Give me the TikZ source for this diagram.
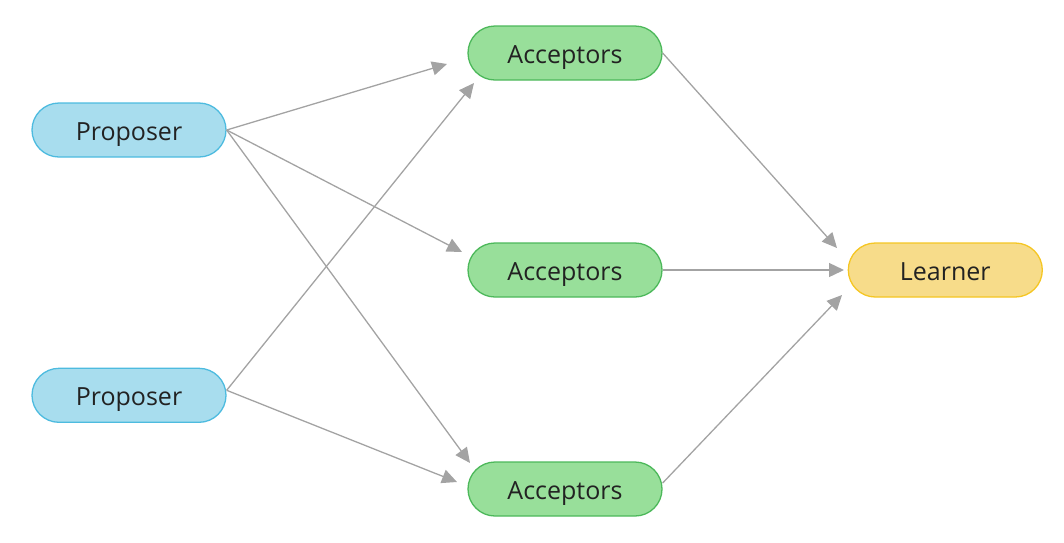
\documentclass[tikz,border=0pt]{standalone}
\usepackage{fontspec}
\setmainfont{Open Sans}
\usepackage{xcolor}
\definecolor{prop_fill}{HTML}{A8DDEE}
\definecolor{prop_line}{HTML}{4DBBDF}
\definecolor{acc_fill}{HTML}{98DF9A}
\definecolor{acc_line}{HTML}{4CB85A}
\definecolor{lrn_fill}{HTML}{F7DC8A}
\definecolor{lrn_line}{HTML}{F5C623}
\definecolor{arr_gray}{HTML}{A3A3A3}
\definecolor{txt_gray}{HTML}{222222}
\usetikzlibrary{positioning,calc,arrows.meta}
\tikzset{ROLE/.style={rectangle,rounded corners=27pt,minimum width=194pt,minimum height=54pt,line width=1.3pt,text=txt_gray,font=\fontsize{25}{30}\selectfont,text height=20pt,text depth=0pt}}
\tikzset{PROPOSER/.style={ROLE,draw=prop_line,fill=prop_fill}}
\tikzset{ACCEPTOR/.style={ROLE,draw=acc_line,fill=acc_fill}}
\tikzset{LEARNER/.style={ROLE,draw=lrn_line,fill=lrn_fill}}
\tikzset{ARROW/.style={line width=1.3pt,draw=arr_gray,-{Triangle[length=15pt,width=14pt,fill=arr_gray]}}}

\begin{document}
\begin{tikzpicture}[x=1pt,y=-1pt]
\useasboundingbox (0,0) rectangle (1064,542);

\node[PROPOSER] (n_prop1) at (129,130) {Proposer};
\node[PROPOSER, below=210pt of n_prop1] (n_prop2) {Proposer};

\node[ACCEPTOR] (n_acc1) at (565,53) {Acceptors};
\node[ACCEPTOR] (n_acc2) at (565,270) {Acceptors};
\node[ACCEPTOR] (n_acc3) at (565,489) {Acceptors};

\node[LEARNER, right=185pt of n_acc2] (n_learner) {Learner};

% arrow tips stop short of the boxes
\coordinate (c_p1_a1) at (447,64);
\coordinate (c_p1_a2) at (462,252);
\coordinate (c_p1_a3) at (470,463);
\coordinate (c_p2_a1) at (474,83);
\coordinate (c_p2_a3) at (457,482);
\coordinate (c_a1_l) at (837,248);
\coordinate (c_a2_l) at (844,270);
\coordinate (c_a3_l) at (842,295);

\draw[ARROW] (n_prop1.east) -- (c_p1_a1);
\draw[ARROW] (n_prop1.east) -- (c_p1_a2);
\draw[ARROW] (n_prop1.east) -- (c_p1_a3);
\draw[ARROW] ($(n_prop2.east)+(0,-5)$) -- (c_p2_a1);
\draw[ARROW] ($(n_prop2.east)+(0,-5)$) -- (c_p2_a3);

\draw[ARROW] (n_acc1.east) -- (c_a1_l);
\draw[ARROW] (n_acc2.east) -- (c_a2_l);
\draw[ARROW] ($(n_acc3.east)+(0,-6)$) -- (c_a3_l);

\end{tikzpicture}
\end{document}
